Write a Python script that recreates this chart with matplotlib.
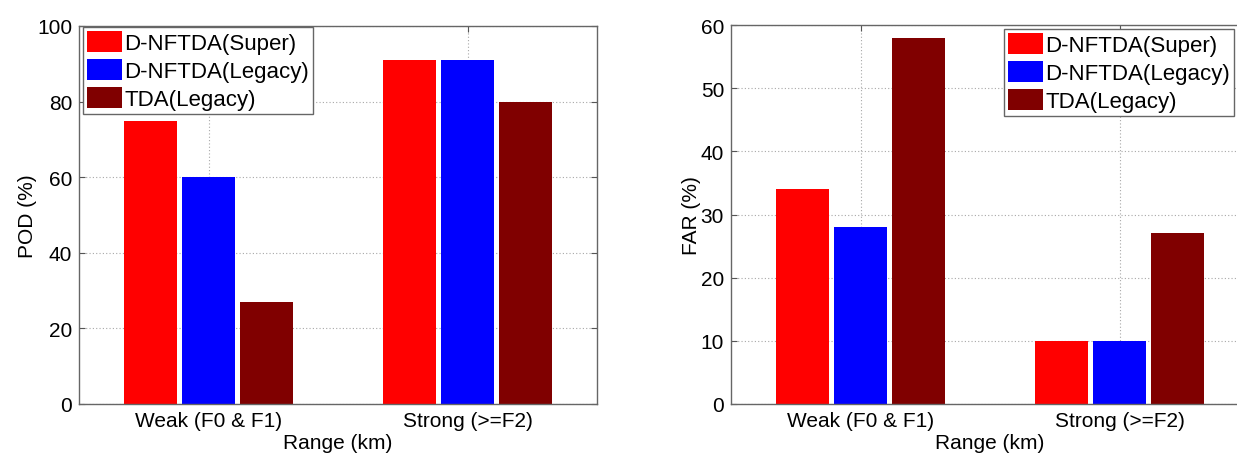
import matplotlib
matplotlib.use("Agg")
import matplotlib.pyplot as plt
import numpy as np

categories = ["Weak (F0 & F1)", "Strong (>=F2)"]
series_names = ["D-NFTDA(Super)", "D-NFTDA(Legacy)", "TDA(Legacy)"]
pod_super = [75, 91]
pod_legacy = [60, 91]
pod_tda = [27, 80]
far_super = [34, 10]
far_legacy = [28, 10]
far_tda = [58, 27]
colors = ["#ff0000", "#0000ff", "#800000"]

plt.rcParams['font.family'] = ['Liberation Sans', 'DejaVu Sans']
plt.rcParams['font.size'] = 15

W, H = 1237, 456
fig = plt.figure(figsize=(W / 100, H / 100), dpi=100)

def make_ax(rect, series, ylim, yticks, ylabel, legend_loc, legend_anchor):
    ax = fig.add_axes(rect)
    x = np.arange(1, len(categories) + 1)
    offsets = [-0.224, 0.0, 0.224]
    for vals, off, c, name in zip(series, offsets, colors, series_names):
        ax.bar(x + off, vals, width=0.205, color=c, label=name, zorder=2)
    ax.set_xlim(0.5, 2.5)
    ax.set_ylim(*ylim)
    ax.set_yticks(yticks)
    ax.set_xticks(x)
    ax.set_xticklabels(categories)
    ax.set_xlabel("Range (km)", labelpad=2.5)
    ax.set_ylabel(ylabel, labelpad=0)
    ax.grid(True, linestyle=(0, (1, 2)), color="#a8a8a8", linewidth=0.8, zorder=0)
    ax.set_axisbelow(True)
    ax.tick_params(direction="in", length=4, top=True, right=True, color="#555555", pad=5)
    for s in ax.spines.values():
        s.set_color("#666666")
        s.set_linewidth(1.0)
    leg = ax.legend(loc=legend_loc, bbox_to_anchor=legend_anchor, fancybox=False,
                    framealpha=1, edgecolor="#666666", handlelength=1.55,
                    handleheight=1.05, handletextpad=0.1, labelspacing=0.22,
                    borderpad=0.2, borderaxespad=0, fontsize=16)
    leg.get_frame().set_linewidth(1.0)
    return ax

ax1 = make_ax([79 / W, 51 / H, 518 / W, 378 / H],
              [pod_super, pod_legacy, pod_tda], (0, 100), [0, 20, 40, 60, 80, 100],
              "POD (%)", "upper left", ((83 - 79) / 518, (405 - 28) / 378))
ax2 = make_ax([731 / W, 51 / H, 518 / W, 379 / H],
              [far_super, far_legacy, far_tda], (0, 60), [0, 10, 20, 30, 40, 50, 60],
              "FAR (%)", "upper left", ((1004 - 731) / 518, (405 - 30) / 379))

fig.savefig("out.png", dpi=100)
